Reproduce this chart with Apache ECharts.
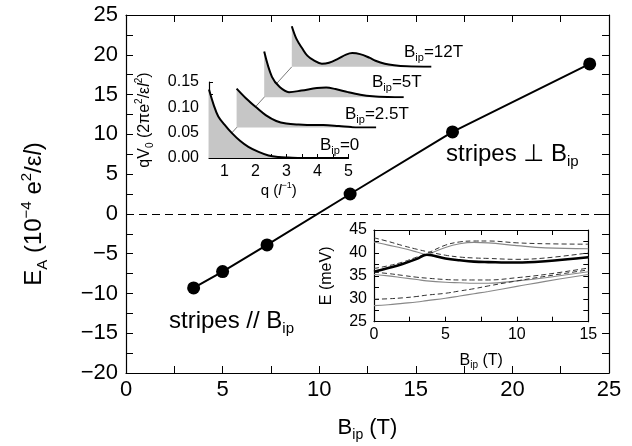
<!DOCTYPE html>
<html>
<head>
<meta charset="utf-8">
<script src="https://cdn.jsdelivr.net/npm/echarts@6/dist/echarts.min.js"></script>
<style>
html,body{margin:0;padding:0;background:#fff}
#chart{width:632px;height:446px}
</style>
</head>
<body>
<div id="chart"></div>
<script>
// main plot: E_A vs in-plane field
var bipList = [3.5, 5.0, 7.3, 11.6, 16.9, 24.0];
var eaList = [-9.3, -7.25, -3.9, 2.5, 10.3, 18.85];

// inset 1: qV0(q) for four fields (front to back)
var panelNames = ['0', '2.5T', '5T', '12T'];
var qPanel0 = [0.5, 0.65, 0.8, 1.0, 1.24, 1.5, 1.77, 2.1, 2.42, 2.75, 3.06, 3.5, 4, 4.5, 5];
var vPanel0 = [0.135, 0.105, 0.082, 0.066, 0.049, 0.034, 0.022, 0.012, 0.005, 0.002, 0.001, 0, 0, 0, 0];
var qPanel1 = [0.5, 0.8, 1.13, 1.45, 1.78, 2.1, 2.5, 3.0, 3.3, 3.8, 4.2, 4.6, 5];
var vPanel1 = [0.077, 0.058, 0.04, 0.024, 0.013, 0.008, 0.006, 0.005, 0.005, 0.003, 0.001, 0, 0];
var qPanel2 = [0.5, 0.75, 1.0, 1.3, 1.7, 2.2, 2.5, 2.8, 3.2, 3.6, 4.0, 4.5, 5];
var vPanel2 = [0.09, 0.04, 0.02, 0.01, 0.013, 0.018, 0.019, 0.016, 0.01, 0.005, 0.002, 0.0005, 0];
var qPanel3 = [0.5, 0.65, 0.85, 1.0, 1.2, 1.47, 1.7, 2.0, 2.25, 2.45, 2.7, 3.0, 3.2, 3.5, 3.8, 4.2, 5];
var vPanel3 = [0.08, 0.055, 0.035, 0.022, 0.013, 0.006, 0.008, 0.016, 0.024, 0.027, 0.025, 0.018, 0.012, 0.006, 0.003, 0.001, 0];
var qTicks = [1, 2, 3, 4, 5];

// inset 2: levels E(meV) vs B_ip
var bLevels = [0, 1, 2, 3, 3.7, 5, 6, 7, 8, 10, 12, 15];
var solid1 = [42.4, 41.7, 41.0, 40.2, 39.6, 38.8, 38.4, 38.1, 38.0, 37.9, 38.2, 39.0];
var solid2 = [36.0, 36.7, 37.6, 38.7, 39.6, 41.2, 42.0, 42.3, 42.2, 41.6, 41.1, 40.9];
var solid3 = [35.3, 35.0, 34.6, 34.2, 33.9, 33.6, 33.5, 33.4, 33.4, 33.9, 34.6, 35.9];
var solid4 = [28.5, 28.7, 29.0, 29.3, 29.6, 30.1, 30.6, 31.1, 31.6, 32.7, 33.8, 35.3];
var dash1 = [43.3, 42.5, 41.6, 40.8, 40.3, 39.5, 39.1, 38.9, 38.8, 38.6, 38.9, 40.0];
var dash2 = [36.6, 37.2, 38.0, 39.1, 39.9, 41.7, 42.4, 42.6, 42.6, 42.2, 42.0, 41.9];
var dash3 = [35.8, 35.5, 35.1, 34.7, 34.5, 34.2, 34.1, 34.1, 34.1, 34.6, 35.3, 36.7];
var dash4 = [29.9, 30.0, 30.2, 30.5, 30.8, 31.2, 31.7, 32.2, 32.8, 33.9, 34.9, 36.3];
var thick = [35.9, 36.7, 37.6, 38.7, 39.6, 38.8, 38.4, 38.1, 38.0, 37.9, 38.2, 39.05];

var FONT = '"Liberation Sans", Arial, Helvetica, "DejaVu Sans", sans-serif';

function pairs(xs, ys) {
    var out = [];
    for (var i = 0; i < xs.length; i++) out.push([xs[i], ys[i]]);
    return out;
}
function minus(v) { return String(v).replace('-', '\u2212'); }

// rich text styles: n normal, s subscript, p superscript, i italic
function richFor(size) {
    var small = Math.round(size * 0.62);
    return {
        n: {fontSize: size, fontFamily: FONT, color: '#000', lineHeight: Math.round(size * 1.3)},
        i: {fontSize: size, fontFamily: FONT, fontStyle: 'italic', color: '#000', lineHeight: Math.round(size * 1.3)},
        s: {fontSize: small, fontFamily: FONT, color: '#000', lineHeight: Math.round(size * 0.7), verticalAlign: 'bottom'},
        p: {fontSize: small, fontFamily: FONT, color: '#000', lineHeight: Math.round(size * 0.7), verticalAlign: 'top'}
    };
}

// inset 1 layout (front panel) and offset of each back panel
var in1 = {left: 209, top: 82, width: 139.5, height: 76};
var panelDx = 27.6, panelDy = 30.4;
var panelDq = panelDx / in1.width * 4.5, panelDv = panelDy / in1.height * 0.15;

var black = '#000';
var tickStyle = {inside: true, length: 7, lineStyle: {color: black, width: 1}};
var minor = {show: true, splitNumber: 2, length: 7, lineStyle: {color: black, width: 1}};
var lineAx = {onZero: false, lineStyle: {color: black, width: 1.2}};

var grids = [
    {left: 126, top: 15, width: 483, height: 358, outerBoundsMode: 'none'},
    {left: in1.left, top: in1.top, width: in1.width, height: in1.height, outerBoundsMode: 'none'}
];
for (var k = 1; k <= 3; k++) {
    grids.push({left: in1.left + k * panelDx, top: in1.top - k * panelDy,
        width: in1.width, height: in1.height, outerBoundsMode: 'none'});
}
grids.push({left: 374, top: 230, width: 214.3, height: 91.7, outerBoundsMode: 'none'});

var xAxes = [
    {type: 'value', gridIndex: 0, position: 'bottom', min: 0, max: 25, interval: 5,
        axisLine: lineAx, axisTick: tickStyle, minorTick: minor, splitLine: {show: false},
        axisLabel: {fontSize: 22, fontFamily: FONT, color: black, margin: 6},
        name: '{n|B}{s|ip}{n| (T)}', nameLocation: 'middle', nameGap: 40,
        nameTextStyle: {rich: richFor(22)}},
    {type: 'value', gridIndex: 0, position: 'top', min: 0, max: 25, interval: 5,
        axisLine: lineAx, axisTick: tickStyle, minorTick: minor, splitLine: {show: false},
        axisLabel: {show: false}},
    {type: 'value', gridIndex: 1, position: 'bottom', min: 0.5, max: 5, interval: 0.5,
        axisLine: lineAx, axisTick: {inside: true, length: 4, lineStyle: {color: black}},
        splitLine: {show: false},
        axisLabel: {fontSize: 16, fontFamily: FONT, color: black, margin: 6,
            formatter: function (v) { return qTicks.indexOf(v) >= 0 ? String(v) : ''; }},
        name: '{n|q (}{i|l}{p|\u22121}{n|)}', nameLocation: 'middle', nameGap: 23,
        nameTextStyle: {rich: richFor(15)}}
];
var yAxes = [
    {type: 'value', gridIndex: 0, position: 'left', min: -20, max: 25, interval: 5,
        axisLine: lineAx, axisTick: tickStyle, minorTick: minor, splitLine: {show: false},
        axisLabel: {fontSize: 22, fontFamily: FONT, color: black, margin: 8, formatter: minus},
        name: '{n|E}{s|A}{n| (10}{p|\u22124}{n| e}{p|2}{n|/\u03b5}{i|l}{n|)}',
        nameLocation: 'middle', nameGap: 76,
        nameTextStyle: {rich: richFor(24), padding: [0, 40, 0, 0]}},
    {type: 'value', gridIndex: 0, position: 'right', min: -20, max: 25, interval: 5,
        axisLine: lineAx, axisTick: tickStyle, minorTick: minor, splitLine: {show: false},
        axisLabel: {show: false}},
    {type: 'value', gridIndex: 1, position: 'left', min: 0, max: 0.15, interval: 0.05,
        axisLine: lineAx, axisTick: {inside: true, length: 4, lineStyle: {color: black}},
        minorTick: {show: true, splitNumber: 2, length: 4, lineStyle: {color: black}},
        splitLine: {show: false},
        axisLabel: {fontSize: 16, fontFamily: FONT, color: black, margin: 10,
            formatter: function (v) { return v.toFixed(2); }},
        name: '{n|qV}{s|0}{n| (2\u03c0e}{p|2}{n|/\u03b5}{i|l}{p|2}{n|)}', nameLocation: 'middle', nameGap: 54,
        nameTextStyle: {rich: richFor(16)}}
];
for (var k = 1; k <= 3; k++) {
    xAxes.push({type: 'value', gridIndex: 1 + k, min: 0.5, max: 5, show: false});
    yAxes.push({type: 'value', gridIndex: 1 + k, min: 0, max: 0.15, show: false});
}
var g2 = grids.length - 1;
xAxes.push({type: 'value', gridIndex: g2, position: 'bottom', min: 0, max: 15, interval: 5,
    axisLine: lineAx, axisTick: {inside: true, length: 5, lineStyle: {color: black}},
    minorTick: {show: true, splitNumber: 2, length: 5, lineStyle: {color: black}}, splitLine: {show: false},
    axisLabel: {fontSize: 16, fontFamily: FONT, color: black, margin: 5},
    name: '{n|B}{s|ip}{n| (T)}', nameLocation: 'middle', nameGap: 28, nameTextStyle: {rich: richFor(16)}});
xAxes.push({type: 'value', gridIndex: g2, position: 'top', min: 0, max: 15, interval: 5,
    axisLine: lineAx, axisTick: {inside: true, length: 5, lineStyle: {color: black}},
    minorTick: {show: true, splitNumber: 2, length: 5, lineStyle: {color: black}}, splitLine: {show: false},
    axisLabel: {show: false}});
yAxes.push({type: 'value', gridIndex: g2, position: 'left', min: 25, max: 45, interval: 5,
    axisLine: lineAx, axisTick: {inside: true, length: 5, lineStyle: {color: black}},
    minorTick: {show: true, splitNumber: 2, length: 5, lineStyle: {color: black}}, splitLine: {show: false},
    axisLabel: {fontSize: 16, fontFamily: FONT, color: black, margin: 7},
    name: '{n|E (meV)}', nameLocation: 'middle', nameGap: 37, nameTextStyle: {rich: richFor(16)}});
yAxes.push({type: 'value', gridIndex: g2, position: 'right', min: 25, max: 45, interval: 5,
    axisLine: lineAx, axisTick: {inside: true, length: 5, lineStyle: {color: black}},
    minorTick: {show: true, splitNumber: 2, length: 5, lineStyle: {color: black}}, splitLine: {show: false},
    axisLabel: {show: false}});

var series = [
    {type: 'line', xAxisIndex: 0, yAxisIndex: 0, data: pairs(bipList, eaList), z: 5,
        symbol: 'circle', symbolSize: 13, itemStyle: {color: black},
        lineStyle: {color: black, width: 2},
        markLine: {silent: true, symbol: 'none', label: {show: false},
            lineStyle: {color: black, width: 1.2, type: [8, 5]}, data: [{yAxis: 0}]}}
];

// waterfall panels, back ones first so the front ones cover them
var qs = [qPanel0, qPanel1, qPanel2, qPanel3];
var vs = [vPanel0, vPanel1, vPanel2, vPanel3];
series.push({type: 'line', xAxisIndex: 2, yAxisIndex: 2, clip: false, symbol: 'none', z: 1,
    lineStyle: {color: '#555', width: 0.8},
    data: [[0.5, 0], [0.5 + 3 * panelDq, 3 * panelDv]]});
for (var k = 3; k >= 0; k--) {
    series.push({type: 'line', xAxisIndex: k === 0 ? 2 : 2 + k, yAxisIndex: k === 0 ? 2 : 2 + k,
        data: pairs(qs[k], vs[k]), smooth: 0.35, symbol: 'none', z: 6 - k,
        lineStyle: {color: black, width: 2}, areaStyle: {color: '#c6c6c6', opacity: 1}});
}

var ix = xAxes.length - 2, iy = yAxes.length - 2;
function levelLine(data, kind) {
    var ls = {color: '#888', width: 1.1};
    if (kind === 'dash') ls = {color: '#333', width: 1, type: [5, 3]};
    if (kind === 'thick') ls = {color: black, width: 2.6};
    return {type: 'line', xAxisIndex: ix, yAxisIndex: iy, data: pairs(bLevels, data),
        smooth: 0.4, symbol: 'none', lineStyle: ls, z: kind === 'thick' ? 4 : 3};
}
series.push(levelLine(solid1, 'solid'), levelLine(solid2, 'solid'),
    levelLine(solid3, 'solid'), levelLine(solid4, 'solid'),
    levelLine(dash1, 'dash'), levelLine(dash2, 'dash'),
    levelLine(dash3, 'dash'), levelLine(dash4, 'dash'),
    levelLine(thick, 'thick'));

function label(x, y, text, size) {
    return {type: 'text', left: x, top: y, z: 20,
        style: {text: text, rich: richFor(size), fill: black}};
}
var panelLabelPos = [[320, 137], [345, 106], [372, 74], [404, 44]];
var graphics = [
    label(169, 309, '{n|stripes // B}{s|ip}', 24),
    label(446, 142, '{n|stripes \u22a5 B}{s|ip}', 24)
];
for (var k = 0; k < 4; k++) {
    graphics.push(label(panelLabelPos[k][0], panelLabelPos[k][1],
        '{n|B}{s|ip}{n|=' + panelNames[k] + '}', 17));
}

var chart = echarts.init(document.getElementById('chart'));
chart.setOption({
    animation: false,
    backgroundColor: '#fff',
    grid: grids,
    xAxis: xAxes,
    yAxis: yAxes,
    series: series,
    graphic: graphics
});
</script>
</body>
</html>
